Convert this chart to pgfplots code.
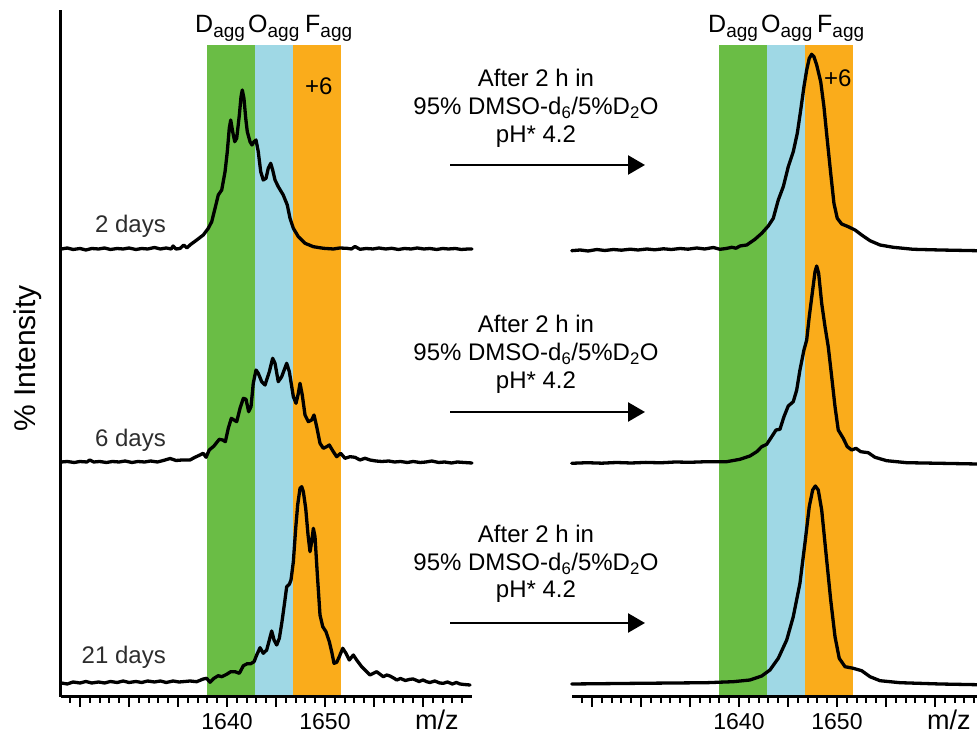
\documentclass[border=0pt]{standalone}
\usepackage{fontspec}
\setmainfont{Liberation Sans}
\usepackage{pgfplots}
\pgfplotsset{compat=1.18}
\usetikzlibrary{arrows.meta}
\definecolor{cgreen}{RGB}{106,189,69}
\definecolor{cblue}{RGB}{159,216,229}
\definecolor{corange}{RGB}{250,172,27}
\definecolor{dgray}{RGB}{45,45,45}
\newcommand{\fs}[1]{\fontsize{#1}{#1}\selectfont}
\newcommand{\agg}{\raisebox{-5pt}{\fs{19}agg}}
\pgfplotsset{spec/.style={
  scale only axis, height=687pt, ymin=0, ymax=687,
  axis x line=bottom,
  ytick=\empty, xtick={1625,1630,...,1660}, xticklabels={,,,1640,,1650,,},
  minor xtick={1624,...,1664},
  tick align=outside, major tick length=10pt, minor tick length=6pt,
  tick style={black, line width=2pt},
  xticklabel style={font=\fs{23}, inner sep=0pt, anchor=north, yshift=-6.5pt},
  /pgf/number format/assume math mode=true,
  axis on top, clip=false},
  tr/.style={black, line width=3.3pt, line join=round, line cap=round}}
\begin{document}
\begin{tikzpicture}[x=1pt,y=1pt]
\useasboundingbox (0,0) rectangle (977,738);
% ---------------- left panel ----------------
\begin{axis}[spec, at={(61pt,41pt)}, anchor=south west, width=411pt,
  xmin=1623.06, xmax=1665, axis y line=left,
  axis line style={-, line width=3pt},
  every outer y axis line/.append style={-}, y axis line style={-}]
\addplot[fill=cgreen, draw=none] coordinates {(1637.96,652) (1642.86,652)} \closedcycle;
\addplot[fill=cblue, draw=none] coordinates {(1642.86,652) (1646.73,652)} \closedcycle;
\addplot[fill=corange, draw=none] coordinates {(1646.73,652) (1651.63,652)} \closedcycle;
% 2 days
\addplot[tr] coordinates {
(1623.1,448) (1623.7,449) (1624.3,447.5) (1625.0,448.5) (1625.6,447) (1626.2,448.5)
(1626.9,448) (1627.5,449) (1628.1,447.5) (1628.8,448.5) (1629.4,448) (1630.0,449)
(1630.7,447.5) (1631.3,448.5) (1631.9,448) (1632.6,449.5) (1633.2,448) (1633.8,449)
(1634.3,448) (1634.5,451) (1634.8,448) (1635.2,448.5) (1635.6,452) (1635.9,449)
(1636.22,452) (1636.91,457) (1637.58,462) (1638.09,468.7) (1638.44,475.3) (1638.78,488.7)
(1639.11,502) (1639.46,507) (1639.80,525.3) (1640.03,545.3) (1640.23,568.7) (1640.38,577)
(1640.58,565.3) (1640.79,555.3) (1640.99,558.7) (1641.26,582) (1641.43,600.3) (1641.56,607)
(1641.73,598.7) (1641.91,578.7) (1642.07,565.3) (1642.35,555.3) (1642.55,552) (1642.76,555.3)
(1642.96,557) (1643.19,545.3) (1643.44,525.3) (1643.70,517) (1643.98,518.7) (1644.21,528.7)
(1644.46,533.7) (1644.66,527) (1644.90,517) (1645.23,510.3) (1645.74,502) (1646.15,492)
(1646.43,478.7) (1646.77,468.7) (1647.28,460.3) (1647.96,453.7) (1648.81,450.3) (1649.83,448.7)
(1650.85,448) (1651.5,449) (1652.21,448.7) (1652.7,448) (1653.06,450.5) (1653.57,447.7)
(1654.2,448.5) (1654.9,448) (1655.5,449) (1656.2,448) (1656.8,448.7) (1657.5,447.5)
(1658.1,448.5) (1658.8,448) (1659.4,449) (1660.1,448) (1660.7,448.5) (1661.4,447.5)
(1662.0,448.5) (1662.6,448) (1663.3,448.5) (1663.9,447.5) (1664.6,448) (1665.0,448)};
% 6 days
\addplot[tr] coordinates {
(1623.1,235) (1623.7,235.5) (1624.4,234.5) (1625.0,235.5) (1625.7,235) (1626.0,237)
(1626.4,235) (1627.0,235.5) (1627.7,234.5) (1628.3,235.5) (1629.0,235) (1629.6,236)
(1630.3,234.5) (1630.9,235.5) (1631.6,235) (1632.2,236) (1632.9,235) (1633.5,236.5)
(1634.2,238.5) (1634.8,236.5) (1635.4,237) (1636.22,237) (1636.73,239.7) (1637.24,242)
(1637.58,243.7) (1637.86,239.7) (1638.19,247) (1638.67,251) (1639.21,257.7) (1639.56,257)
(1639.83,255.3) (1640.13,268.7) (1640.44,278.7) (1640.71,277) (1640.99,275.3) (1641.33,288.7)
(1641.67,298.7) (1641.94,297.7) (1642.21,285.3) (1642.45,290.3) (1642.68,313.7) (1642.96,327)
(1643.19,323.7) (1643.54,315.3) (1643.88,312) (1644.32,325.3) (1644.66,338.7) (1644.90,333.7)
(1645.23,315.3) (1645.58,320.3) (1646.09,333.7) (1646.36,325.3) (1646.77,300.3) (1647.04,293.7)
(1647.28,303.7) (1647.45,313.7) (1647.68,302) (1647.96,282) (1648.30,275.3) (1648.64,277)
(1648.88,282) (1649.15,270.3) (1649.49,253.7) (1649.83,248.7) (1650.17,250.3) (1650.44,252)
(1650.85,245.3) (1651.19,240.3) (1651.60,243.7) (1652.04,238.7) (1652.55,240.3) (1653.06,239.7)
(1653.57,237) (1654.08,238.7) (1654.59,237) (1655.2,236) (1655.8,235.5) (1656.5,236)
(1657.1,235) (1657.7,235.5) (1658.4,234.5) (1659.0,235.5) (1659.7,234.5) (1660.3,235)
(1660.9,236) (1661.6,234.5) (1662.2,235) (1662.9,234) (1663.5,235) (1664.2,234.5) (1665.0,234)};
% 21 days
\addplot[tr] coordinates {
(1623.1,14) (1623.7,13) (1624.3,15) (1625.0,14) (1625.6,15.5) (1626.2,14) (1626.9,15)
(1627.5,14) (1628.1,15.5) (1628.8,14.5) (1629.4,16) (1630.0,14.5) (1630.7,15.5) (1631.3,14.5)
(1631.9,16) (1632.6,15) (1633.2,16) (1633.8,14.5) (1634.5,16) (1635.1,15) (1635.7,15.5)
(1636.22,16) (1636.90,15.3) (1637.58,18) (1637.92,18.7) (1638.27,14.7) (1638.67,18.7)
(1639.11,21.3) (1639.46,20.3) (1639.97,22.7) (1640.38,25.3) (1640.82,25.3) (1641.26,23.7)
(1641.67,31.3) (1642.07,33.3) (1642.42,33.3) (1642.76,35.3) (1643.03,42) (1643.37,49.3)
(1643.70,43.7) (1644.05,47) (1644.32,57) (1644.56,66) (1644.80,57) (1645.07,52)
(1645.34,58.7) (1645.61,75.3) (1645.89,95.3) (1646.09,110.3) (1646.36,112.7) (1646.53,117)
(1646.77,135.3) (1647.01,168.7) (1647.21,192) (1647.45,208.7) (1647.62,210.3) (1647.79,205.3)
(1648.03,188.7) (1648.27,162) (1648.47,145.3) (1648.64,155.3) (1648.81,168.7) (1648.98,160.3)
(1649.22,122) (1649.49,82) (1649.77,70.3) (1650.10,65.3) (1650.44,55.3) (1650.68,45.3)
(1650.92,33.7) (1651.19,34.7) (1651.46,40.3) (1651.81,48.7) (1652.14,43.7) (1652.48,37)
(1652.89,42) (1653.23,37) (1653.74,30.3) (1654.59,22) (1655.27,25.3) (1655.95,20.3)
(1656.3,22) (1656.63,21) (1657.0,19) (1657.32,17) (1657.7,18.5) (1658.2,16.5) (1658.67,17.7)
(1659.0,18) (1659.6,15.5) (1660.0,17) (1660.38,15.3) (1660.7,14.5) (1661.2,16) (1661.7,14)
(1662.07,13.7) (1662.5,15) (1663.0,13) (1663.4,14.5) (1663.78,13) (1664.2,12.5) (1664.8,12)};
\end{axis}
% ---------------- right panel ----------------
\begin{axis}[spec, at={(572pt,41pt)}, anchor=south west, width=405pt,
  xmin=1622.96, xmax=1664.29, axis y line=none,
  axis line style={-, line width=3pt}]
\addplot[fill=cgreen, draw=none] coordinates {(1637.96,652) (1642.86,652)} \closedcycle;
\addplot[fill=cblue, draw=none] coordinates {(1642.86,652) (1646.73,652)} \closedcycle;
\addplot[fill=corange, draw=none] coordinates {(1646.73,652) (1651.63,652)} \closedcycle;
% top
\addplot[tr] coordinates {
(1622.93,446.3) (1623.8,447) (1624.6,446) (1625.5,447.5) (1626.3,446.5) (1627.2,447.5)
(1628.0,446.8) (1628.9,447.8) (1629.7,447) (1630.6,448) (1631.4,447.2) (1632.3,448.2)
(1633.1,447.5) (1634.0,448.5) (1634.8,447.8) (1635.7,449) (1636.5,448) (1637.38,449.5)
(1638.06,447.7) (1638.7,448.5) (1639.26,449.7) (1639.7,448.8) (1640.10,451) (1640.79,452)
(1641.63,457.7) (1642.32,463.7) (1642.99,471) (1643.50,478.7) (1644.01,497) (1644.52,510.3)
(1645.03,530.3) (1645.54,545.3) (1645.95,563.7) (1646.30,587) (1646.63,610.3) (1646.91,627)
(1647.17,638.7) (1647.42,642.7) (1647.65,640.3) (1647.93,632) (1648.34,615.3) (1648.67,590.3)
(1649.01,557) (1649.36,523.7) (1649.69,493.7) (1650.03,478.7) (1650.48,473) (1651.15,470.3)
(1651.84,467) (1652.52,462) (1653.37,456.3) (1654.39,452) (1655.74,449.7) (1657.79,447.7)
(1660.51,447) (1664.29,446.3)};
% middle
\addplot[tr] coordinates {
(1622.93,233.7) (1624.5,234.3) (1626.0,233.8) (1627.5,234.5) (1629.0,234) (1630.5,234.6)
(1632.0,234.2) (1633.5,235) (1635.0,234.7) (1636.70,235.3) (1638.74,235.3) (1640.10,237.7)
(1641.12,241) (1641.81,245.3) (1642.32,250.3) (1642.83,252.7) (1643.34,260.3) (1643.78,267)
(1644.18,267.7) (1644.59,280.3) (1645.03,291) (1645.54,295.3) (1645.89,307) (1646.22,327)
(1646.63,347) (1646.91,357) (1647.17,380.3) (1647.52,407) (1647.76,425.3) (1647.93,431)
(1648.13,423.7) (1648.44,393.7) (1648.78,370.3) (1649.11,350.3) (1649.46,320.3) (1649.80,290.3)
(1650.13,267) (1650.64,258.7) (1651.05,250.3) (1651.50,247) (1651.94,248.7) (1652.42,245.3)
(1653.19,244.3) (1653.88,239.7) (1655.07,236.3) (1657.11,234.3) (1660.51,233.7) (1664.29,233)};
% bottom
\addplot[tr] coordinates {
(1622.93,13) (1629.90,13.7) (1636.70,14.3) (1639.42,15.3) (1641.12,17) (1642.32,21)
(1643.16,27) (1644.01,38.7) (1644.87,57) (1645.54,80.3) (1646.22,113.7) (1646.73,153.7)
(1647.17,190.3) (1647.52,207) (1647.79,211) (1648.09,207) (1648.44,187) (1648.88,143.7)
(1649.36,97) (1649.80,60.3) (1650.23,38.7) (1650.82,30.3) (1651.66,28.7) (1652.52,26.3)
(1653.37,20.3) (1654.39,16.3) (1656.43,14.3) (1660.51,13) (1664.29,12.3)};
\end{axis}
% ---------------- text ----------------
\node[rotate=90, anchor=base, inner sep=0pt, font=\fs{30}] at (35,379.5) {\% Intensity};
\foreach \x in {195,708} \node[anchor=base west, inner sep=0pt, font=\fs{25}] at (\x,705) {D\agg};
\foreach \x in {248,761} \node[anchor=base west, inner sep=0pt, font=\fs{25}] at (\x,705) {O\agg};
\foreach \x in {305,817} \node[anchor=base west, inner sep=0pt, font=\fs{25}] at (\x,705) {F\agg};
\node[anchor=base west, inner sep=0pt, font=\fs{24}] at (305,643) {+6};
\node[anchor=base west, inner sep=0pt, font=\fs{24}] at (824,651) {+6};
\node[anchor=base east, inner sep=0pt, font=\fs{24}, text=dgray] at (166,505) {2 days};
\node[anchor=base east, inner sep=0pt, font=\fs{24}, text=dgray] at (166,291) {6 days};
\node[anchor=base east, inner sep=0pt, font=\fs{24}, text=dgray] at (166,74) {21 days};
\node[anchor=base west, inner sep=0pt, font=\fs{27}] at (415,8) {m/z};
\node[anchor=base west, inner sep=0pt, font=\fs{27}] at (927,8) {m/z};
\foreach \a/\b/\c/\d in {651/623/595/573, 405/377/349/326, 195/167/140/115}{
  \node[anchor=base, inner sep=0pt, font=\fs{24}] at (536,\a) {After 2 h in};
  \node[anchor=base, inner sep=0pt, font=\fs{24}] at (536,\b) {95\% DMSO-d\textsubscript{6}/5\%D\textsubscript{2}O};
  \node[anchor=base, inner sep=0pt, font=\fs{24}] at (536,\c) {pH* 4.2};
  \draw[line width=2.5pt, -{Triangle[length=17pt, width=19pt]}] (450,\d) -- (645,\d);
}
\end{tikzpicture}
\end{document}
